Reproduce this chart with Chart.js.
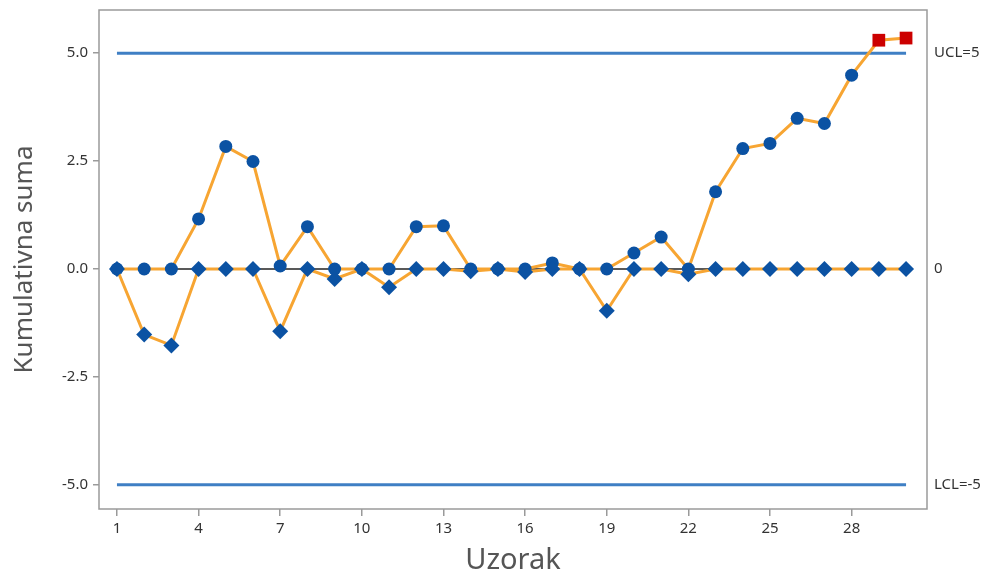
<!DOCTYPE html>
<html lang="hr">
<head>
    <meta charset="UTF-8">
    <title>CUSUM</title>
    <script src="https://cdn.jsdelivr.net/npm/chart.js"></script>
    <style>
        body { margin: 0; background: #fff; }
        #wrap { width: 997px; height: 577px; position: relative; }
    </style>
</head>
<body>
    <div id="wrap"><canvas id="chart"></canvas></div>

    <script>
        // samples 1..30
        const samples = Array.from({ length: 30 }, (_, i) => i + 1);
        // upper cusum (circles)
        const upperCusum = [0, 0, 0, 1.16, 2.84, 2.49, 0.07, 0.98, 0, 0,
                            0, 0.98, 1.0, 0, 0, 0, 0.14, 0, 0, 0.37,
                            0.74, 0, 1.79, 2.79, 2.91, 3.49, 3.37, 4.49, 5.30, 5.35];
        // lower cusum (diamonds)
        const lowerCusum = [0, -1.52, -1.77, 0, 0, 0, -1.44, 0, -0.23, 0,
                            -0.42, 0, 0, -0.05, 0, -0.07, 0, 0, -0.97, 0,
                            0, -0.12, 0, 0, 0, 0, 0, 0, 0, 0];
        const ucl = 5;
        const lcl = -5;
        const center = 0;
        const xTicks = [1, 4, 7, 10, 13, 16, 19, 22, 25, 28];
        const yTicks = [-5, -2.5, 0, 2.5, 5];
        const limitLabels = { "5": "UCL=5", "0": "0", "-5": "LCL=-5" };

        const orange = "#f7a532";
        const blue = "#0b52a3";
        const limitBlue = "#3f7fc4";
        const FONT = "'Noto Sans', 'Open Sans', sans-serif";

        const toPts = arr => arr.map((v, i) => ({ x: samples[i], y: v }));
        const flat = v => [{ x: samples[0], y: v }, { x: samples[samples.length - 1], y: v }];

        // frame around the plot area
        const frame = {
            id: "frame",
            beforeDatasetsDraw(chart) {
                const a = chart.chartArea, c = chart.ctx;
                c.save();
                c.strokeStyle = "#9a9a9a";
                c.lineWidth = 1.5;
                c.strokeRect(a.left, a.top, a.right - a.left, a.bottom - a.top);
                c.restore();
            }
        };

        const fitY = w => s => { s.width = w; s.paddingTop = 0; s.paddingBottom = 0; };

        new Chart(document.getElementById("chart"), {
            type: "line",
            data: {
                datasets: [
                    {
                        label: "lower",
                        data: toPts(lowerCusum),
                        borderColor: orange,
                        borderWidth: 3,
                        pointStyle: "rectRot",
                        pointRadius: 8,
                        pointBackgroundColor: blue,
                        pointBorderColor: blue,
                        pointBorderWidth: 0,
                        order: 1
                    },
                    {
                        label: "upper",
                        data: toPts(upperCusum),
                        borderColor: orange,
                        borderWidth: 3,
                        pointStyle: ctx => upperCusum[ctx.dataIndex] > ucl ? "rect" : "circle",
                        pointRadius: ctx => upperCusum[ctx.dataIndex] > ucl ? 9 : 6.5,
                        pointBackgroundColor: ctx => upperCusum[ctx.dataIndex] > ucl ? "#cc0000" : blue,
                        pointBorderColor: ctx => upperCusum[ctx.dataIndex] > ucl ? "#cc0000" : blue,
                        pointBorderWidth: 0,
                        order: 2
                    },
                    {
                        label: "center",
                        data: flat(center),
                        borderColor: "#222",
                        borderWidth: 1.5,
                        pointRadius: 0,
                        order: 3
                    },
                    {
                        label: "UCL",
                        data: flat(ucl),
                        borderColor: limitBlue,
                        borderWidth: 3,
                        pointRadius: 0,
                        order: 4
                    },
                    {
                        label: "LCL",
                        data: flat(lcl),
                        borderColor: limitBlue,
                        borderWidth: 3,
                        pointRadius: 0,
                        order: 5
                    }
                ]
            },
            options: {
                responsive: true,
                maintainAspectRatio: false,
                animation: false,
                layout: { padding: { top: 10, left: 0, right: 0, bottom: 0 } },
                plugins: {
                    legend: { display: false },
                    tooltip: { enabled: false }
                },
                scales: {
                    x: {
                        type: "linear",
                        min: 0.34,
                        max: 30.77,
                        afterBuildTicks: s => { s.ticks = xTicks.map(v => ({ value: v })); },
                        afterFit: s => { s.height = 68; s.paddingLeft = 0; s.paddingRight = 0; },
                        grid: { display: true, drawOnChartArea: false, drawTicks: true, tickLength: 7, color: "#9a9a9a", lineWidth: 1.5 },
                        border: { display: false },
                        ticks: { color: "#333", font: { family: FONT, size: 15 }, padding: 4, maxRotation: 0 },
                        title: { display: true, text: "Uzorak", color: "#555", font: { family: FONT, size: 29, lineHeight: 1 }, padding: { top: 0, bottom: 2 } }
                    },
                    y: {
                        position: "left",
                        min: -5.56,
                        max: 6.0,
                        afterBuildTicks: s => { s.ticks = yTicks.map(v => ({ value: v })); },
                        afterFit: fitY(99),
                        grid: { display: true, drawOnChartArea: false, drawTicks: true, tickLength: 6, color: "#9a9a9a", lineWidth: 1.5 },
                        border: { display: false },
                        ticks: { color: "#333", font: { family: FONT, size: 15 }, padding: 5, callback: v => v.toFixed(1) },
                        title: { display: true, text: "Kumulativna suma", color: "#555", font: { family: FONT, size: 26, lineHeight: 1 }, padding: { top: 12, bottom: 0 } }
                    },
                    y2: {
                        position: "right",
                        min: -5.56,
                        max: 6.0,
                        afterBuildTicks: s => { s.ticks = [lcl, center, ucl].map(v => ({ value: v })); },
                        afterFit: fitY(70),
                        grid: { display: false, drawTicks: false },
                        border: { display: false },
                        ticks: { color: "#333", font: { family: FONT, size: 15 }, padding: 7, callback: v => limitLabels[String(v)] }
                    }
                }
            },
            plugins: [frame]
        });
    </script>
</body>
</html>
